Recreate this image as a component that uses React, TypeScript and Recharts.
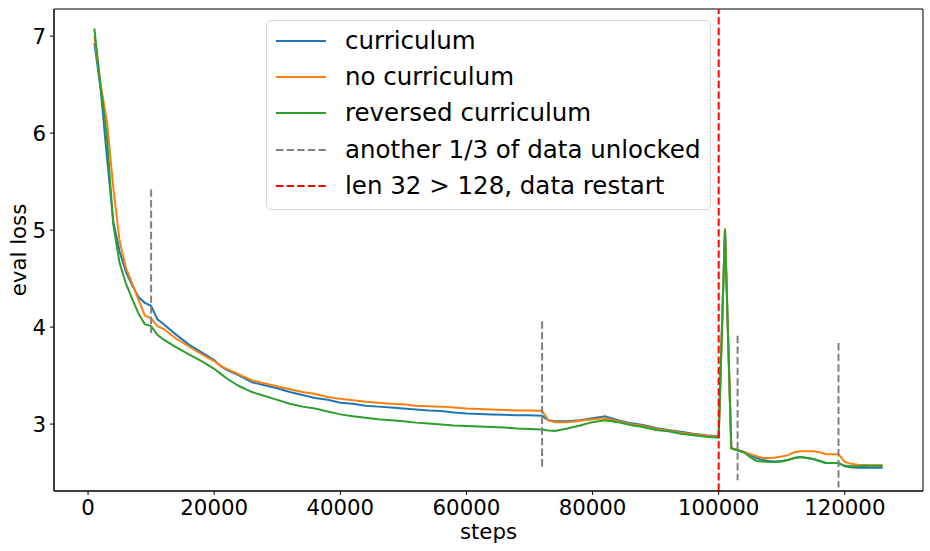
// Eval loss vs. training steps for the three curriculum variants, with the
// data-unlock points and the sequence-length restart marked as dashed lines.
import {
  Legend,
  Line,
  LineChart,
  ReferenceArea,
  ReferenceLine,
  XAxis,
  YAxis,
} from "recharts";

const STEPS = [
  1000, 2000, 3000, 4000, 5000, 6000, 7000, 8000, 9000, 10000,
  11000, 12000, 14000, 16000, 18000, 20000, 21000, 22000, 24000, 26000,
  28000, 30000, 32000, 34000, 36000, 38000, 40000, 42000, 44000, 46000,
  48000, 50000, 52000, 54000, 56000, 58000, 60000, 62000, 64000, 66000,
  68000, 70000, 72000, 73000, 74000, 76000, 78000, 80000, 82000, 84000,
  86000, 88000, 90000, 92000, 94000, 96000, 98000, 100000, 101000, 102000,
  103000, 104000, 105000, 106000, 107000, 108000, 109000, 110000, 111000, 112000,
  113000, 114000, 115000, 116000, 117000, 118000, 119000, 120000, 121000, 122000,
  124000, 126000,
];

const CURRICULUM = [
  6.93, 6.45, 5.75, 5.09, 4.78, 4.57, 4.43, 4.31, 4.25, 4.22,
  4.08, 4.03, 3.92, 3.82, 3.74, 3.66, 3.6, 3.56, 3.5, 3.43,
  3.4, 3.37, 3.33, 3.3, 3.27, 3.25, 3.22, 3.21, 3.19, 3.18,
  3.17, 3.16, 3.15, 3.14, 3.135, 3.12, 3.11, 3.105, 3.1, 3.095,
  3.09, 3.09, 3.085, 3.04, 3.03, 3.03, 3.04, 3.06, 3.08, 3.04,
  3.01, 2.99, 2.96, 2.94, 2.92, 2.9, 2.885, 2.875, 5.02, 2.75,
  2.73, 2.71, 2.68, 2.65, 2.63, 2.62, 2.615, 2.62, 2.63, 2.65,
  2.66, 2.65, 2.64, 2.62, 2.6, 2.6, 2.6, 2.565, 2.555, 2.55,
  2.55, 2.55,
];

const NO_CURRICULUM = [
  7.0, 6.5, 6.12, 5.44, 4.89, 4.61, 4.45, 4.28, 4.12, 4.09,
  4.01, 3.98, 3.88, 3.8, 3.72, 3.65, 3.6, 3.57, 3.51, 3.45,
  3.42, 3.39, 3.36, 3.33, 3.31, 3.28, 3.26, 3.245, 3.23, 3.22,
  3.21, 3.205, 3.19, 3.185, 3.18, 3.17, 3.16, 3.155, 3.15, 3.145,
  3.14, 3.14, 3.135, 3.04, 3.02, 3.02, 3.035, 3.05, 3.06, 3.03,
  3.0, 2.98, 2.95, 2.935, 2.91, 2.895, 2.88, 2.87, 5.02, 2.75,
  2.73, 2.715, 2.69, 2.67, 2.65, 2.65, 2.655, 2.665, 2.68, 2.71,
  2.72, 2.72, 2.72, 2.71, 2.69, 2.69, 2.69, 2.61, 2.59, 2.58,
  2.575, 2.575,
];

const REVERSED = [
  7.08, 6.48, 5.95, 5.06, 4.66, 4.45, 4.29, 4.14, 4.03, 4.01,
  3.92, 3.87, 3.79, 3.72, 3.65, 3.57, 3.52, 3.47, 3.39, 3.33,
  3.29, 3.25, 3.21, 3.18, 3.16, 3.13, 3.1, 3.08, 3.065, 3.05,
  3.04, 3.03, 3.015, 3.005, 2.995, 2.985, 2.98, 2.975, 2.97, 2.965,
  2.955, 2.95, 2.945, 2.935, 2.93, 2.955, 2.985, 3.02, 3.04, 3.02,
  2.99, 2.97, 2.94, 2.925, 2.9, 2.885, 2.87, 2.86, 5.0, 2.75,
  2.73, 2.71, 2.66, 2.62, 2.615, 2.61, 2.61, 2.615, 2.63, 2.65,
  2.66, 2.65, 2.64, 2.62, 2.6, 2.6, 2.6, 2.57, 2.565, 2.565,
  2.57, 2.57,
];

// gray markers: where another third of the data was unlocked (vertical spans)
const UNLOCK_STEPS = [10000, 72000, 103000, 119000];
const UNLOCK_TOP = [5.42, 4.06, 3.91, 3.835];
const UNLOCK_BOTTOM = [3.94, 2.56, 2.42, 2.346];
const RESTART_STEP = 100000;

const X_TICKS = [0, 20000, 40000, 60000, 80000, 100000, 120000];
const Y_TICKS = [3, 4, 5, 6, 7];
const X_DOMAIN = [-5400, 132400];
const Y_DOMAIN = [2.31, 7.28];

const BLUE = "#1f77b4";
const ORANGE = "#ff7f0e";
const GREEN = "#2ca02c";
const GRAY = "#808080";
const RED = "#ff0000";
const DASH = "7.4 3.2";
const FONT = 21.3;

const LEGEND_ITEMS = [
  { label: "curriculum", color: BLUE, dash: undefined },
  { label: "no curriculum", color: ORANGE, dash: undefined },
  { label: "reversed curriculum", color: GREEN, dash: undefined },
  { label: "another 1/3 of data unlocked", color: GRAY, dash: DASH },
  { label: "len 32 > 128, data restart", color: RED, dash: DASH },
];

const rows = STEPS.map((step, i) => ({
  step,
  curriculum: CURRICULUM[i],
  noCurriculum: NO_CURRICULUM[i],
  reversed: REVERSED[i],
}));

function LegendBox() {
  return (
    <div
      style={{
        background: "rgba(255,255,255,0.8)",
        border: "1px solid #d6d6d6",
        borderRadius: 5,
        width: 434,
        height: 186,
        paddingTop: 2,
        paddingLeft: 9,
        boxSizing: "content-box",
      }}
    >
      {LEGEND_ITEMS.map((it) => (
        <div
          key={it.label}
          style={{ display: "flex", alignItems: "center", height: 36.2 }}
        >
          <svg width={50} height={4} style={{ marginRight: 19, flex: "none" }}>
            <line
              x1={0}
              x2={50}
              y1={2}
              y2={2}
              stroke={it.color}
              strokeWidth={2}
              strokeDasharray={it.dash}
            />
          </svg>
          <span
            style={{
              fontSize: 24.5,
              color: "#000",
              lineHeight: "36px",
              whiteSpace: "nowrap",
            }}
          >
            {it.label}
          </span>
        </div>
      ))}
    </div>
  );
}

export default function App() {
  return (
    <div
      style={{
        position: "absolute",
        left: 0,
        top: 0,
        width: 930,
        height: 551,
        background: "#fff",
        fontFamily: '"DejaVu Sans", sans-serif',
      }}
    >
      <LineChart
        width={930}
        height={551}
        data={rows}
        margin={{ top: 9, right: 7, bottom: 0, left: 0 }}
      >
        <XAxis
          dataKey="step"
          type="number"
          domain={X_DOMAIN}
          ticks={X_TICKS}
          allowDataOverflow
          height={60}
          tickSize={4}
          tickMargin={5}
          tick={{ fill: "#000", fontSize: FONT }}
          tickLine={{ stroke: "#000" }}
          axisLine={{ stroke: "#000" }}
          label={{
            content: ({ viewBox }: any) => (
              <text
                x={viewBox.x + viewBox.width / 2}
                y={539}
                textAnchor="middle"
                fontSize={FONT}
                fill="#000"
              >
                steps
              </text>
            ),
          }}
        />
        <YAxis
          type="number"
          domain={Y_DOMAIN}
          ticks={Y_TICKS}
          allowDataOverflow
          width={54}
          tickSize={4}
          tickMargin={4}
          tick={{ fill: "#000", fontSize: FONT }}
          tickLine={{ stroke: "#000" }}
          axisLine={{ stroke: "#000" }}
          label={{
            content: ({ viewBox }: any) => (
              <text
                transform={`translate(26, ${viewBox.y + viewBox.height / 2}) rotate(-90)`}
                textAnchor="middle"
                fontSize={FONT}
                fill="#000"
              >
                eval loss
              </text>
            ),
          }}
        />
        {/* matplotlib-style box around the plot area */}
        <ReferenceArea
          x1={X_DOMAIN[0]}
          x2={X_DOMAIN[1]}
          y1={Y_DOMAIN[0]}
          y2={Y_DOMAIN[1]}
          fill="none"
          fillOpacity={0}
          stroke="#000"
          strokeWidth={1}
          strokeOpacity={1}
        />
        <Line
          type="linear"
          dataKey="curriculum"
          name="curriculum"
          stroke={BLUE}
          strokeWidth={2}
          dot={false}
          isAnimationActive={false}
        />
        <Line
          type="linear"
          dataKey="noCurriculum"
          name="no curriculum"
          stroke={ORANGE}
          strokeWidth={2}
          dot={false}
          isAnimationActive={false}
        />
        <Line
          type="linear"
          dataKey="reversed"
          name="reversed curriculum"
          stroke={GREEN}
          strokeWidth={2}
          dot={false}
          isAnimationActive={false}
        />
        {UNLOCK_STEPS.map((s, i) => (
          <ReferenceLine
            key={s}
            segment={[
              { x: s, y: UNLOCK_TOP[i] },
              { x: s, y: UNLOCK_BOTTOM[i] },
            ]}
            stroke={GRAY}
            strokeWidth={2}
            strokeDasharray={DASH}
          />
        ))}
        <ReferenceLine
          x={RESTART_STEP}
          stroke={RED}
          strokeWidth={2}
          strokeDasharray={DASH}
        />
        <Legend
          layout="vertical"
          align="center"
          verticalAlign="middle"
          wrapperStyle={{ left: 266, top: 20, width: "auto", height: "auto" }}
          content={() => <LegendBox />}
        />
      </LineChart>
    </div>
  );
}
